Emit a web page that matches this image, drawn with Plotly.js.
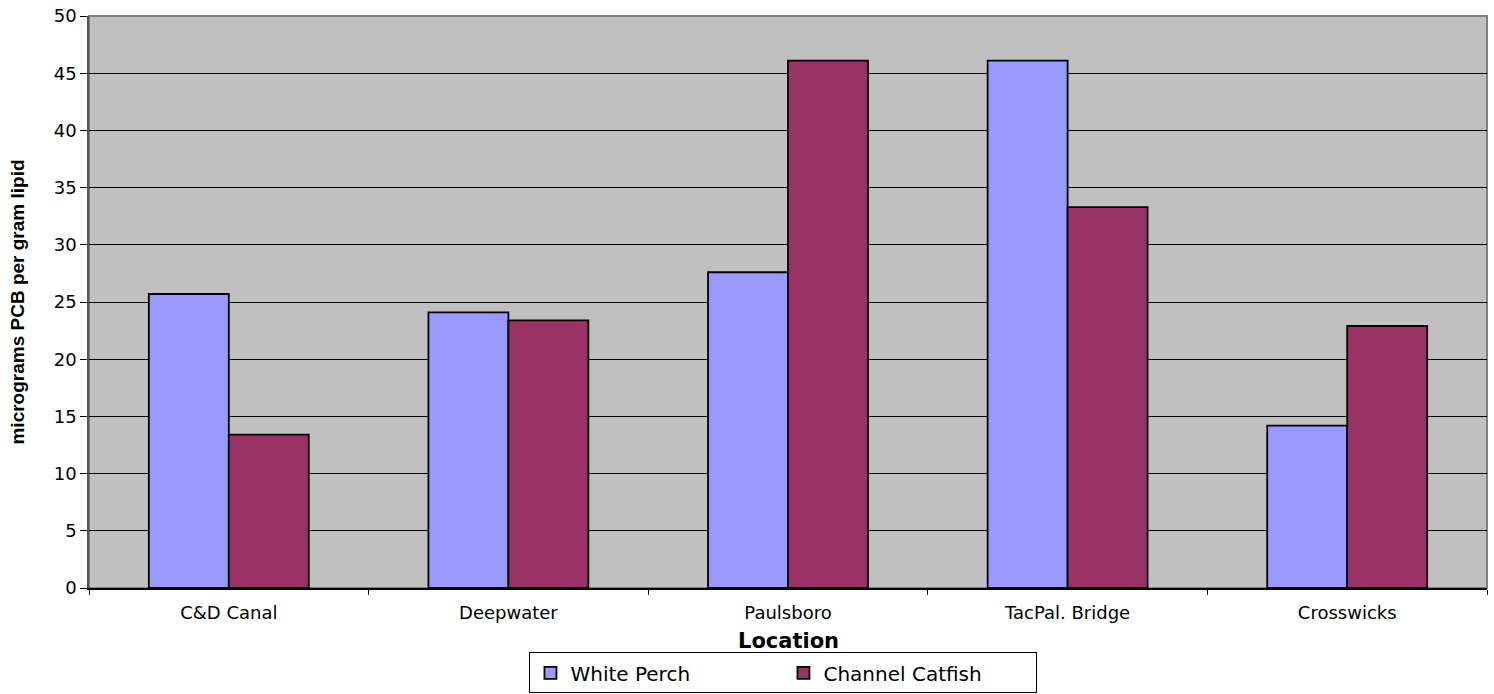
<!DOCTYPE html>
<html><head><meta charset="utf-8">
<script src="https://cdn.plot.ly/plotly-3.0.1.min.js"></script>
<style>body{margin:0;background:#fff}#c{width:1494px;height:694px}</style>
</head><body><div id="c"></div>
<script>
const locations = ["C&D Canal", "Deepwater", "Paulsboro", "TacPal. Bridge", "Crosswicks"];
const whitePerch = [25.7, 24.1, 27.6, 46.1, 14.2];
const channelCatfish = [13.4, 23.4, 46.1, 33.3, 22.9];
const yTicks = [0, 5, 10, 15, 20, 25, 30, 35, 40, 45, 50];
const xTitle = "Location";
const yTitle = "micrograms PCB per gram lipid";

const font = "'DejaVu Sans', Arial, sans-serif";
const data = [
  {type: "bar", name: "White Perch", x: locations, y: whitePerch,
   marker: {color: "#9999FF", line: {color: "#000", width: 1.8}}},
  {type: "bar", name: "Channel Catfish", x: locations, y: channelCatfish,
   marker: {color: "#993366", line: {color: "#000", width: 1.8}}}
];
const layout = {
  width: 1494, height: 694,
  margin: {l: 89, r: 7, t: 16, b: 106},
  paper_bgcolor: "#fff", plot_bgcolor: "#C0C0C0",
  barmode: "group", bargap: 0.428, bargroupgap: 0,
  font: {family: font, color: "#000"},
  xaxis: {
    type: "category", tickson: "boundaries", ticks: "outside", ticklen: 5,
    tickcolor: "#000", showline: true, linecolor: "#000", linewidth: 1.5,
    mirror: false, showgrid: false, automargin: false,
    tickfont: {size: 18, family: font}, ticklabelstandoff: 8
  },
  yaxis: {
    range: [0, 50], tickvals: yTicks, ticks: "outside", ticklen: 7,
    tickcolor: "#000", showline: true, linecolor: "#555", linewidth: 1.5,
    showgrid: true, gridcolor: "#000", gridwidth: 1, zeroline: false, automargin: false,
    tickfont: {size: 18, family: font},
    title: {text: "<b>" + yTitle + "</b>", font: {size: 19, family: "Arial, 'Liberation Sans', sans-serif"}, standoff: 24}
  },
  annotations: [{
    text: "<b>" + xTitle + "</b>", xref: "paper", yref: "paper", x: 0.5, y: -0.092,
    xanchor: "center", yanchor: "middle", showarrow: false,
    font: {size: 21, family: font, color: "#000"}
  }],
  legend: {
    orientation: "h", x: 0.5244, xanchor: "center", xref: "container",
    y: 0.001, yanchor: "bottom", yref: "container",
    bordercolor: "#000", borderwidth: 1, bgcolor: "#fff",
    font: {size: 20, family: font}, itemwidth: 30,
    entrywidth: 208, entrywidthmode: "pixels"
  },
  showlegend: true,
  shapes: [{type: "rect", xref: "paper", yref: "paper", x0: 0, x1: 1, y0: 0, y1: 1,
    line: {color: "#808080", width: 2}, layer: "below"}]
};
Plotly.newPlot("c", data, layout, {displayModeBar: false});
</script></body></html>
